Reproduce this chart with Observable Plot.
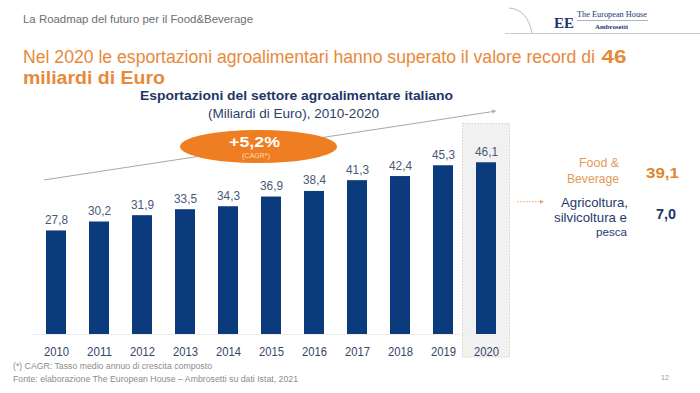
<!DOCTYPE html>
<html>
<head>
<meta charset="utf-8">
<script src="https://cdn.jsdelivr.net/npm/d3@7"></script>
<script src="https://cdn.jsdelivr.net/npm/@observablehq/plot@0.6"></script>
<style>
  html, body { margin: 0; padding: 0; background: #ffffff; }
  #page { position: relative; width: 700px; height: 393px; overflow: hidden; background: #fff; }
  #page > svg { position: absolute; left: 0; top: 0; }
</style>
</head>
<body>
<div id="page"></div>
<script>
// ---------- data ----------
const years = ["2010","2011","2012","2013","2014","2015","2016","2017","2018","2019","2020"];
const exportValues = [27.8, 30.2, 31.9, 33.5, 34.3, 36.9, 38.4, 41.3, 42.4, 45.3, 46.1];
const highlightYear = "2020";
const cagrLabel = "+5,2%";
const cagrNote = "(CAGR*)";
const breakdownNames = [["Food &", "Beverage"], ["Agricoltura,", "silvicoltura e", "pesca"]];
const breakdownValues = ["39,1", "7,0"];
const headerText = "La Roadmap del futuro per il Food&Beverage";
const titleText = "Nel 2020 le esportazioni agroalimentari hanno superato il valore record di";
const titleBold = "46";
const titleLine2 = "miliardi di Euro";
const chartTitle = "Esportazioni del settore agroalimentare italiano";
const chartSubtitle = "(Miliardi di Euro), 2010-2020";
const footnote = "(*) CAGR: Tasso medio annuo di crescita composto";
const source = "Fonte: elaborazione The European House \u2013 Ambrosetti su dati Istat, 2021";
const pageNumber = "12";

// ---------- chart ----------
const FONT = "'Liberation Sans', Arial, sans-serif";
const navy = "#0b3a7d";
const data = years.map((year, i) => ({year, value: exportValues[i]}));
const fmt = v => v.toFixed(1).replace(".", ",");

const chart = Plot.plot({
  width: 700,
  height: 393,
  marginTop: 0, marginRight: 0, marginBottom: 0, marginLeft: 0,
  x: {type: "band", domain: years, range: [21.76, 519.9], padding: 0.54, axis: null},
  y: {type: "linear", domain: [0, 50], range: [334, 147.75], axis: null},
  style: {fontFamily: FONT, background: "transparent", overflow: "visible"},
  marks: [
    Plot.barY([highlightYear], {
      x: d => d, y1: () => -6.2, y2: () => 56.5,
      insetLeft: -13.5, insetRight: -13.5,
      fill: "#f1f1f1", stroke: "#d8cfc2", strokeWidth: 1, strokeDasharray: "1.5,1.5"
    }),
    Plot.ruleY([0], {stroke: "#ececec", insetLeft: 33, insetRight: 235}),
    Plot.arrow([cagrLabel], {
      x1: () => years[0], x2: () => years[years.length - 1],
      y1: () => 42.0, y2: () => 59.6,
      insetStart: -12, insetEnd: -8.8, bend: 0,
      stroke: "#a8a8a8", strokeWidth: 1, headLength: 5
    }),
    Plot.barY(data, {x: "year", y: "value", fill: navy}),
    Plot.text(data, {
      x: "year", y: "value", text: d => fmt(d.value),
      lineAnchor: "bottom", dy: -7, fill: "#4a5979", fontSize: 12
    }),
    Plot.text(data, {
      x: "year", y: () => 0, text: "year",
      lineAnchor: "bottom", dy: 21, fill: "#34466c", fontSize: 13.5
    })
  ]
});
const page = document.getElementById("page");
page.appendChild(chart);

// fit year labels / value labels to the reference widths
const textGroups = chart.querySelectorAll('g[aria-label="text"]');
if (textGroups.length > 1) {
  textGroups[1].querySelectorAll("text").forEach(t => {
    t.setAttribute("textLength", 25);
    t.setAttribute("lengthAdjust", "spacingAndGlyphs");
  });
  textGroups[0].querySelectorAll("text").forEach(t => {
    t.setAttribute("textLength", 23);
    t.setAttribute("lengthAdjust", "spacingAndGlyphs");
  });
}

// ---------- overlay (slide texts and decorations) ----------
const NS = "http://www.w3.org/2000/svg";
const ov = document.createElementNS(NS, "svg");
ov.setAttribute("width", 700);
ov.setAttribute("height", 393);
ov.setAttribute("viewBox", "0 0 700 393");
page.appendChild(ov);

function el(tag, attrs, parent = ov) {
  const e = document.createElementNS(NS, tag);
  for (const k in attrs) e.setAttribute(k, attrs[k]);
  parent.appendChild(e);
  return e;
}
// text placed by its left edge & baseline, fitted to the measured width
function txt(s, x, y, o) {
  const t = el("text", {
    x, y,
    "font-size": o.size,
    "font-weight": o.weight || "normal",
    "font-family": o.family || FONT,
    fill: o.fill
  });
  t.textContent = s;
  if (o.w) {
    const nat = t.getComputedTextLength();
    if (nat > o.w) t.setAttribute("font-size", (o.size * o.w / nat).toFixed(2));
    t.setAttribute("textLength", o.w);
    t.setAttribute("lengthAdjust", "spacingAndGlyphs");
  }
  return t;
}

// header line & swoosh
const defs = el("defs", {});
const grad = el("linearGradient", {id: "hl", x1: 0, x2: 1, y1: 0, y2: 0}, defs);
el("stop", {offset: "0", "stop-color": "#eea56b"}, grad);
el("stop", {offset: "0.85", "stop-color": "#f1b88c"}, grad);
el("stop", {offset: "1", "stop-color": "#d9d9d9"}, grad);
el("line", {x1: 23, x2: 512, y1: 32.5, y2: 32.5, stroke: "url(#hl)", "stroke-width": 1.2});
el("line", {x1: 505, x2: 700, y1: 33.5, y2: 33.5, stroke: "#c9ccd3", "stroke-width": 1});
el("path", {d: "M509,8 C522,9 529,18 532,33", fill: "none", stroke: "#b9bdc5", "stroke-width": 1});

txt(headerText, 23, 23, {size: 12, w: 230, fill: "#6e6e6e"});

// logo
txt("EE", 554, 28, {size: 17, w: 20, weight: "bold", family: "'Liberation Serif', serif", fill: "#1d3570"});
txt("The European House", 577, 17, {size: 8, w: 70, family: "'Liberation Serif', serif", fill: "#1d3570"});
el("line", {x1: 577, x2: 648, y1: 20.5, y2: 20.5, stroke: "#8893ad", "stroke-width": 0.7});
txt("Ambrosetti", 595, 28.5, {size: 9, w: 33, weight: "bold", family: "'Liberation Serif', serif", fill: "#1d3570"});

// titles
const orange = "#e8893a";
txt(titleText, 23, 62.5, {size: 18.5, w: 572, fill: orange});
txt(titleBold, 601.5, 62.5, {size: 18.5, w: 25, weight: "bold", fill: orange});
txt(titleLine2, 23, 83.5, {size: 18.5, w: 142, weight: "bold", fill: orange});

txt(chartTitle, 140, 100, {size: 13, w: 313, weight: "bold", fill: "#1f3566"});
txt(chartSubtitle, 208, 117.5, {size: 13, w: 171, fill: "#2e3f66"});

// CAGR ellipse
el("ellipse", {cx: 258.5, cy: 146.5, rx: 78.5, ry: 16.5, fill: "#ef7d22"});
txt(cagrLabel, 229, 147, {size: 15.5, w: 51, weight: "bold", fill: "#ffffff"});
txt(cagrNote, 242, 157.5, {size: 7.5, w: 28, fill: "#fddcbd"});

// breakdown of 2020
el("line", {x1: 517, x2: 540, y1: 201.7, y2: 201.7, stroke: "#e9a36a", "stroke-width": 1, "stroke-dasharray": "1.5,1.5"});
el("path", {d: "M540,199.7 L544,201.7 L540,203.7 Z", fill: "#e9a36a"});

const fbColor = "#e39a57";
txt(breakdownNames[0][0], 579, 167.3, {size: 13, w: 40, fill: fbColor});
txt(breakdownNames[0][1], 567, 182.7, {size: 13, w: 52, fill: fbColor});
txt(breakdownValues[0], 646, 177.5, {size: 15, w: 33, weight: "bold", fill: "#e3852f"});

const agColor = "#1f3a6e";
txt(breakdownNames[1][0], 561, 206.7, {size: 13, w: 67, fill: agColor});
txt(breakdownNames[1][1], 554, 221.7, {size: 13, w: 73, fill: agColor});
txt(breakdownNames[1][2], 596, 236, {size: 13, w: 31, fill: agColor});
txt(breakdownValues[1], 656, 219, {size: 15, w: 20, weight: "bold", fill: "#1b3566"});

// footnotes
txt(footnote, 13, 368.7, {size: 8.5, w: 199, fill: "#8c8c8c"});
txt(source, 13, 382.3, {size: 8.5, w: 285, fill: "#8c8c8c"});
txt(pageNumber, 661, 380, {size: 8, w: 8, fill: "#a0a0a0"});
</script>
</body>
</html>
